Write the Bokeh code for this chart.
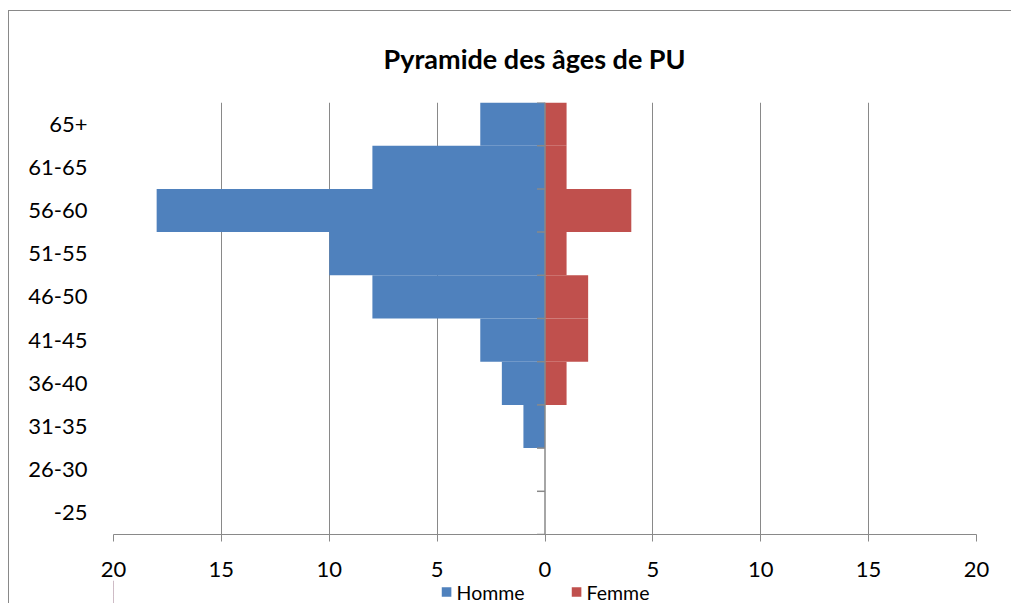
from bokeh.plotting import figure
from bokeh.models import FactorRange, Range1d, FixedTicker, Span, Legend, LegendItem, ColumnDataSource
from bokeh.layouts import column
from bokeh.embed import file_html
from bokeh.resources import INLINE

categories = ["-25", "26-30", "31-35", "36-40", "41-45", "46-50", "51-55", "56-60", "61-65", "65+"]
homme = [0, 0, 1, 2, 3, 8, 10, 18, 8, 3]
femme = [0, 0, 0, 1, 2, 2, 1, 4, 1, 1]
x_ticks = [-20, -15, -10, -5, 0, 5, 10, 15, 20]
x_tick_labels = ["20", "15", "10", "5", "0", "5", "10", "15", "20"]

FONT = "Lato"
GRID = "#898989"
C_H = "#4F81BD"
C_F = "#C0504D"

src = ColumnDataSource(dict(cat=categories, h=[-v for v in homme], f=femme, z=[0] * len(categories)))

p = figure(
    width=1002, height=576,
    y_range=FactorRange(factors=categories, range_padding=0),
    x_range=Range1d(-20, 20),
    output_backend="svg", toolbar_location=None,
    min_border_left=104, min_border_right=35, min_border_top=90, min_border_bottom=54,
    frame_width=863, frame_height=432,
    title="Pyramide des âges de PU",
)
p.outline_line_color = None
p.background_fill_color = "white"
p.border_fill_color = "white"

p.title.text_font = FONT
p.title.text_font_size = "27px"
p.title.text_font_style = "bold"
p.title.text_color = "black"
p.title.align = "left"
p.title.offset = 270
p.title.standoff = 56

p.hbar(y="cat", left="h", right="z", height=1.0, source=src, fill_color=C_H, line_color=None)
p.hbar(y="cat", left="z", right="f", height=1.0, source=src, fill_color=C_F, line_color=None)

# x axis
xa = p.xaxis[0]
xa.ticker = FixedTicker(ticks=x_ticks)
xa.major_label_overrides = {t: l for t, l in zip(x_ticks, x_tick_labels)}
xa.axis_line_color = GRID
xa.major_tick_line_color = GRID
xa.major_tick_out = 7
xa.major_tick_in = 0
xa.minor_tick_line_color = None
xa.major_label_text_font = FONT
xa.major_label_text_font_size = "22px"
xa.major_label_text_color = "black"
xa.major_label_standoff = 20

# y axis
ya = p.yaxis[0]
ya.axis_line_color = None
ya.major_tick_line_color = None
ya.minor_tick_line_color = None
ya.major_label_text_font = FONT
ya.major_label_text_font_size = "22px"
ya.major_label_text_color = "black"
ya.major_label_standoff = 20

p.xgrid.ticker = FixedTicker(ticks=[t for t in x_ticks if t != 0])
p.xgrid.grid_line_color = GRID
p.ygrid.grid_line_color = None

# central axis at zero with tick marks at category boundaries
p.add_layout(Span(location=0, dimension="height", line_color=GRID, line_width=1.5, level="overlay"))
bounds = list(range(len(categories) + 1))
p.segment(x0=[-0.37] * len(bounds), x1=[0] * len(bounds), y0=bounds, y1=bounds, line_color=GRID, line_width=1.5)

# legend strip below the chart (swatch renderers sit outside the visible range)
p2 = figure(
    width=1002, height=23,
    y_range=FactorRange(factors=categories), x_range=Range1d(100, 101),
    output_backend="svg", toolbar_location=None,
    min_border=0, x_axis_location=None, y_axis_location=None,
)
p2.outline_line_color = None
p2.xgrid.grid_line_color = None
p2.ygrid.grid_line_color = None
p2.background_fill_alpha = 0
p2.border_fill_alpha = 0
p2.styles = {"margin-top": "-8px"}
lh = p2.hbar(y="cat", left="h", right="z", height=1.0, source=src, fill_color=C_H, line_color=None)
lf = p2.hbar(y="cat", left="z", right="f", height=1.0, source=src, fill_color=C_F, line_color=None)

legend = Legend(items=[LegendItem(label="Homme", renderers=[lh]), LegendItem(label="Femme", renderers=[lf])],
                orientation="horizontal", location="center")
legend.label_text_font = FONT
legend.label_text_font_size = "19.5px"
legend.label_text_color = "black"
legend.glyph_width = 12
legend.glyph_height = 12
legend.spacing = 45
legend.border_line_color = None
legend.background_fill_alpha = 0
legend.padding = 0
legend.margin = 0
legend.label_standoff = 5
legend.label_height = 16
p2.add_layout(legend, "center")

layout = column(p, p2, spacing=0)
layout.styles = {"border-left": "1px solid #898989", "border-top": "1px solid #898989",
                 "margin-top": "10px", "margin-left": "8px"}

open("out.html", "w").write(file_html(layout, INLINE))
